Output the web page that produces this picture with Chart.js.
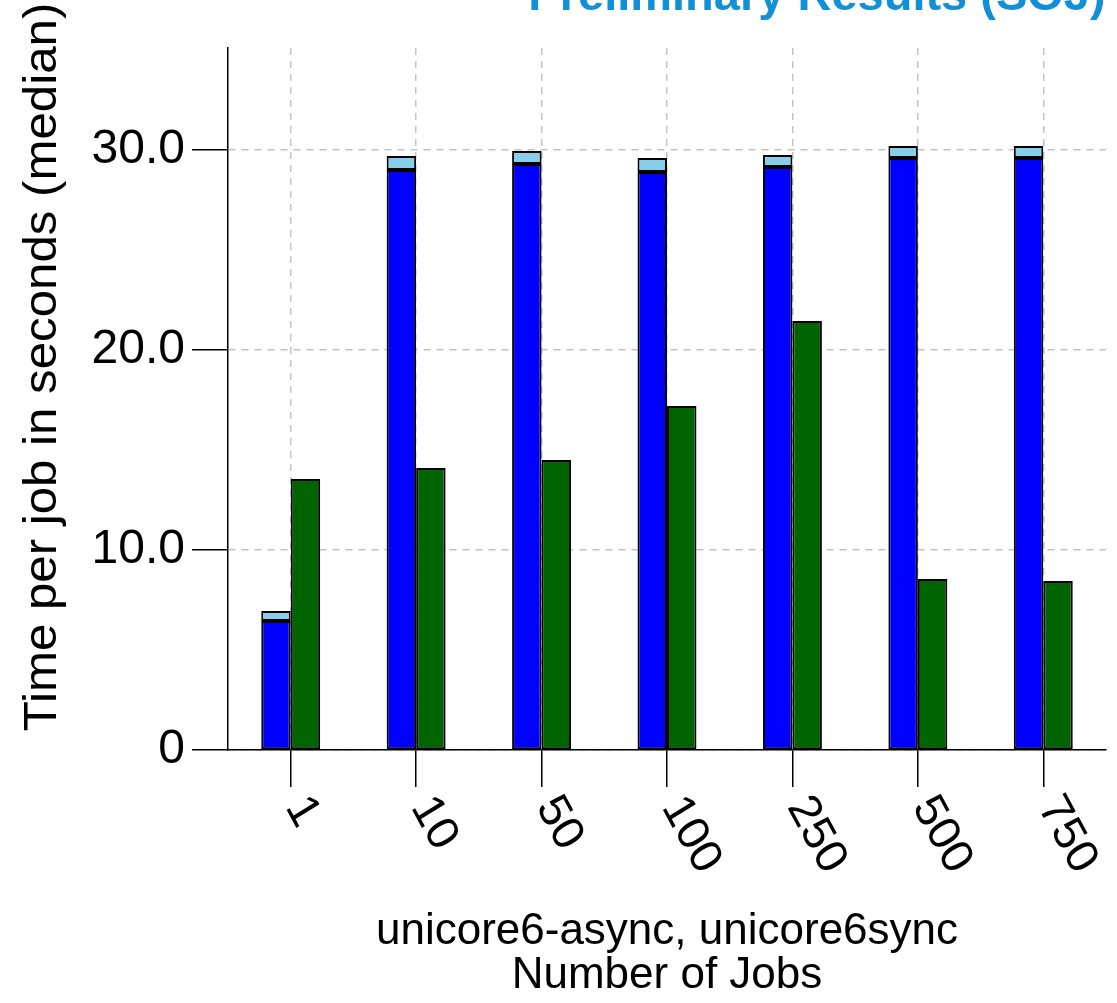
<!DOCTYPE html>
<html>
<head>
<meta charset="utf-8">
<title>Time per job</title>
<script src="https://cdn.jsdelivr.net/npm/chart.js@4.4.1/dist/chart.umd.min.js"></script>
<style>
  html, body { margin: 0; padding: 0; background: #ffffff; }
  #wrap { width: 1117px; height: 1003px; overflow: hidden; }
</style>
</head>
<body>
<div id="wrap"><canvas id="chart" width="1117" height="1003"></canvas></div>
<script>
// Number of jobs submitted per run
const categories = ['1', '10', '50', '100', '250', '500', '750'];
// unicore6-async: median time per job (s), main part and the small extra on top
const asyncMain = [6.45, 29.0, 29.3, 28.9, 29.15, 29.6, 29.6];
const asyncExtra = [0.5, 0.7, 0.65, 0.7, 0.6, 0.6, 0.6];
// unicore6sync: median time per job (s)
const syncTimes = [13.55, 14.1, 14.5, 17.2, 21.45, 8.55, 8.45];
// value axis ticks
const yTicks = [0, 10, 20, 30];

const pageTitle = 'Preliminary Results (SOJ)';
const yTitle = 'Time per job in seconds (median)';
const xTitle = ['unicore6-async, unicore6sync', 'Number of Jobs'];

const FONT = '"Liberation Sans", Arial, Helvetica, sans-serif';
const STRETCH = 1.07; // text in this figure is slightly taller than wide

// Draws the slide heading, the vertical axis title and the slanted job-count labels
const decorations = {
  id: 'decorations',
  afterDraw(chart) {
    const ctx = chart.ctx;
    const xs = chart.scales.x;

    ctx.save();
    ctx.fillStyle = '#1190d8';
    ctx.font = 'bold 47px ' + FONT;
    ctx.textAlign = 'center';
    ctx.textBaseline = 'alphabetic';
    ctx.fillText(pageTitle, 817, 10);
    ctx.restore();

    ctx.save();
    ctx.fillStyle = '#000';
    ctx.font = '46px ' + FONT;
    ctx.translate(43, 367);
    ctx.scale(1, STRETCH);
    ctx.rotate(-Math.PI / 2);
    ctx.textAlign = 'center';
    ctx.textBaseline = 'middle';
    ctx.fillText(yTitle, 0, 0);
    ctx.restore();

    const angle = 60 * Math.PI / 180;
    categories.forEach((label, i) => {
      const x = xs.getPixelForTick(i);
      ctx.save();
      ctx.fillStyle = '#000';
      ctx.font = '45px ' + FONT;
      ctx.translate(x + 5, xs.top + 50);
      ctx.scale(1, STRETCH);
      ctx.rotate(angle);
      ctx.textAlign = 'left';
      ctx.textBaseline = 'middle';
      ctx.fillText(label, 0, 0);
      ctx.restore();
    });
  }
};

new Chart(document.getElementById('chart'), {
  type: 'bar',
  data: {
    labels: categories,
    datasets: [
      { label: 'unicore6-async', data: asyncMain, backgroundColor: '#0000ff', stack: 'async' },
      { label: 'unicore6-async (rest)', data: asyncExtra, backgroundColor: '#87ceeb', stack: 'async' },
      { label: 'unicore6sync', data: syncTimes, backgroundColor: '#006400', stack: 'sync' }
    ]
  },
  options: {
    responsive: false,
    animation: false,
    devicePixelRatio: 1,
    layout: { padding: { top: 48, right: 11, bottom: 0, left: 0 } },
    datasets: {
      bar: {
        borderColor: '#000',
        borderWidth: 2,
        borderSkipped: false,
        categoryPercentage: 0.47,
        barPercentage: 1
      }
    },
    plugins: {
      legend: { display: false },
      title: { display: false },
      tooltip: { enabled: false }
    },
    scales: {
      x: {
        stacked: true,
        afterFit(scale) { scale.height = 253; },
        grid: {
          display: true,
          offset: false,
          color: '#c4c4c4',
          lineWidth: 1.5,
          drawTicks: true,
          tickLength: 37,
          tickColor: '#000',
          tickWidth: 1.5
        },
        border: { display: true, color: '#000', width: 1.5, dash: [7, 6] },
        ticks: { display: false },
        title: {
          display: true,
          text: xTitle,
          color: '#000',
          font: { family: FONT, size: 44, lineHeight: 0.98 },
          padding: { top: 0, bottom: 6 }
        }
      },
      y: {
        stacked: true,
        min: 0,
        max: 35.1,
        afterFit(scale) { scale.width = 228; },
        afterBuildTicks(scale) { scale.ticks = yTicks.map(v => ({ value: v })); },
        grid: {
          display: true,
          color: '#c4c4c4',
          lineWidth: 1.5,
          drawTicks: true,
          tickLength: 36,
          tickColor: '#000',
          tickWidth: 1.5
        },
        border: { display: true, color: '#000', width: 1.5, dash: [7, 6] },
        ticks: {
          color: '#000',
          padding: 7,
          font: { family: FONT, size: 48 },
          callback: v => (v === 0 ? '0' : v.toFixed(1))
        }
      }
    }
  },
  plugins: [decorations]
});
</script>
</body>
</html>
